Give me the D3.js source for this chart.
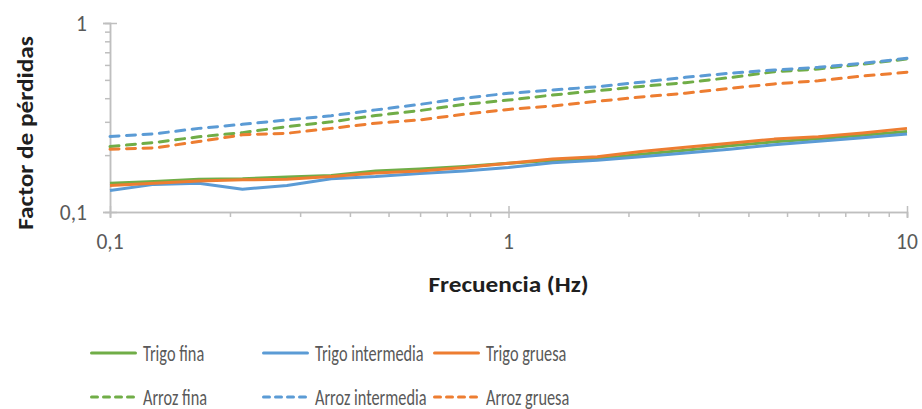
<!DOCTYPE html>
<html>
<head>
<meta charset="utf-8">
<script src="https://cdn.jsdelivr.net/npm/d3@7"></script>
<style>
  body { margin: 0; background: #fff; }
  svg { display: block; font-family: Calibri, Carlito, Lato, sans-serif; }
</style>
</head>
<body>
<div id="chart"></div>
<script>
const width = 922,
  height = 409,
  margin = { top: 23, bottom: 197, left: 110, right: 15 }

// frecuencias (Hz)
const freq = [0.1, 0.129, 0.167, 0.215, 0.278, 0.359, 0.464, 0.599, 0.774, 1,
  1.29, 1.67, 2.15, 2.78, 3.59, 4.64, 5.99, 7.74, 10]

// factor de pérdidas
const trigoFina = [0.142, 0.145, 0.149, 0.150, 0.153, 0.156, 0.165, 0.169, 0.174, 0.181,
  0.187, 0.191, 0.202, 0.212, 0.224, 0.235, 0.244, 0.255, 0.267]
const trigoIntermedia = [0.130, 0.140, 0.142, 0.132, 0.138, 0.150, 0.154, 0.160, 0.165, 0.172,
  0.182, 0.188, 0.196, 0.205, 0.215, 0.227, 0.237, 0.247, 0.259]
const trigoGruesa = [0.138, 0.142, 0.146, 0.148, 0.149, 0.154, 0.161, 0.165, 0.172, 0.181,
  0.191, 0.196, 0.209, 0.220, 0.231, 0.243, 0.250, 0.262, 0.277]
const arrozFina = [0.222, 0.233, 0.250, 0.263, 0.283, 0.300, 0.324, 0.344, 0.371, 0.391,
  0.416, 0.438, 0.462, 0.483, 0.514, 0.552, 0.571, 0.605, 0.645]
const arrozIntermedia = [0.251, 0.259, 0.277, 0.291, 0.307, 0.323, 0.347, 0.371, 0.400, 0.425,
  0.442, 0.460, 0.486, 0.516, 0.542, 0.564, 0.583, 0.612, 0.650]
const arrozGruesa = [0.215, 0.218, 0.236, 0.256, 0.261, 0.277, 0.295, 0.307, 0.329, 0.349,
  0.364, 0.385, 0.406, 0.425, 0.451, 0.476, 0.495, 0.524, 0.549]

const xTicks = [0.1, 1, 10]
const xTickLabels = ["0,1", "1", "10"]
const yTicks = [0.1, 1]
const yTickLabels = ["0,1", "1"]

const series = [
  { name: "Trigo fina", values: trigoFina, color: "#70AD47", dashed: false },
  { name: "Trigo intermedia", values: trigoIntermedia, color: "#5B9BD5", dashed: false },
  { name: "Trigo gruesa", values: trigoGruesa, color: "#ED7D31", dashed: false },
  { name: "Arroz fina", values: arrozFina, color: "#70AD47", dashed: true },
  { name: "Arroz intermedia", values: arrozIntermedia, color: "#5B9BD5", dashed: true },
  { name: "Arroz gruesa", values: arrozGruesa, color: "#ED7D31", dashed: true }
]

const axisColor = "#BFBFBF"
const textColor = "#595959"
const titleColor = "#1f1f1f"

const x = d3.scaleLog()
  .domain([0.1, 10])
  .range([margin.left, width - margin.right])

const y = d3.scaleLog()
  .domain([0.1, 1])
  .range([height - margin.bottom, margin.top])

const svg = d3.select("#chart")
  .append("svg")
  .attr("width", width)
  .attr("height", height)

// minor ticks (2..9 of each decade)
const xMinor = x.ticks().filter(d => !xTicks.includes(d))
const yMinor = y.ticks().filter(d => !yTicks.includes(d))

const xAxisG = svg.append("g")
  .attr("transform", `translate(0,${y(0.1)})`)
xAxisG.append("g")
  .call(d3.axisBottom(x).tickValues(xMinor).tickSize(5).tickFormat(""))
xAxisG.append("g")
  .call(d3.axisBottom(x).tickValues(xTicks).tickSize(6).tickFormat(""))
  .selectAll(".tick line").attr("y1", -6)
xAxisG.selectAll(".domain").attr("stroke", axisColor).attr("stroke-width", 1.5)
xAxisG.selectAll(".tick line").attr("stroke", axisColor).attr("stroke-width", 1.5)

const yAxisG = svg.append("g")
  .attr("transform", `translate(${x(0.1)},0)`)
yAxisG.append("g")
  .call(d3.axisLeft(y).tickValues(yMinor).tickSize(5).tickFormat(""))
yAxisG.append("g")
  .call(d3.axisLeft(y).tickValues(yTicks).tickSize(7).tickFormat(""))
  .selectAll(".tick line").attr("x1", 7)
yAxisG.selectAll(".domain").attr("stroke", axisColor).attr("stroke-width", 1.5)
yAxisG.selectAll(".tick line").attr("stroke", axisColor).attr("stroke-width", 1.5)

// tick labels
svg.append("g")
  .selectAll("text")
  .data(xTicks)
  .join("text")
  .attr("x", d => x(d))
  .attr("y", y(0.1) + 29)
  .attr("dy", "0.35em")
  .attr("text-anchor", "middle")
  .attr("fill", textColor)
  .attr("font-size", 21.5)
  .text((d, i) => xTickLabels[i])

svg.append("g")
  .selectAll("text")
  .data(yTicks)
  .join("text")
  .attr("x", x(0.1) - 23)
  .attr("y", d => y(d))
  .attr("dy", "0.35em")
  .attr("text-anchor", "end")
  .attr("fill", textColor)
  .attr("font-size", 21.5)
  .text((d, i) => yTickLabels[i])

// axis titles
svg.append("text")
  .attr("transform", `translate(${(x(0.1) + x(10)) / 2},284) scale(1.1,1)`)
  .attr("dy", "0.35em")
  .attr("text-anchor", "middle")
  .attr("font-weight", "bold")
  .attr("font-size", 23)
  .attr("fill", titleColor)
  .text("Frecuencia (Hz)")

svg.append("text")
  .attr("transform", `translate(33,133) rotate(-90) scale(1.15,1)`)
  .attr("text-anchor", "middle")
  .attr("font-weight", "bold")
  .attr("font-size", 22)
  .attr("fill", titleColor)
  .text("Factor de pérdidas")

// lines
const line = d3.line()
  .x((d, i) => x(freq[i]))
  .y(d => y(d))

svg.append("g")
  .selectAll("path")
  .data(series)
  .join("path")
  .attr("d", d => line(d.values))
  .attr("fill", "none")
  .attr("stroke", d => d.color)
  .attr("stroke-width", 3)
  .attr("stroke-linejoin", "round")
  .attr("stroke-linecap", d => d.dashed ? "round" : "butt")
  .attr("stroke-dasharray", d => d.dashed ? "9 7.5" : null)

// legend
const legendX = [90, 262, 433]
const legendY = [353, 397]

const legend = svg.append("g")
  .selectAll("g")
  .data(series)
  .join("g")
  .attr("transform", (d, i) => `translate(${legendX[i % 3]},${legendY[Math.floor(i / 3)]})`)

legend.append("line")
  .attr("x1", 1.5)
  .attr("x2", 45.5)
  .attr("stroke", d => d.color)
  .attr("stroke-width", 3)
  .attr("stroke-linecap", "round")
  .attr("stroke-dasharray", d => d.dashed ? "6 6" : null)

legend.append("text")
  .attr("transform", "translate(53,0) scale(1,1.35)")
  .attr("dy", "0.35em")
  .attr("fill", textColor)
  .attr("font-size", 16.3)
  .text(d => d.name)
</script>
</body>
</html>
